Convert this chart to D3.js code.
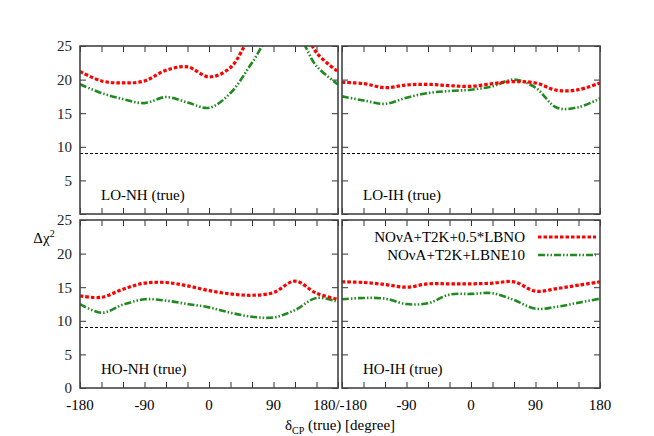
<!DOCTYPE html>
<html><head><meta charset="utf-8">
<script src="https://cdn.jsdelivr.net/npm/d3@7"></script>
<style>body{margin:0;background:#fff}text{font-family:"Liberation Serif","DejaVu Serif",serif;font-size:13px}</style>
</head><body><svg width="654" height="436"></svg>
<script>
const delta = [-180,-150,-120,-90,-60,-30,0,30,60,90,120,150,180];
// panel data (Δχ² vs δCP)
const loNhRed   = [21.2,19.8,19.5,19.8,21.4,21.9,20.4,21.8,27,31,30,24,21.2];
const loNhGreen = [19.3,18.0,17.1,16.5,17.4,16.6,15.8,18.0,22.5,27,27,22,19.3];
const loIhRed   = [19.6,19.4,18.8,19.2,19.3,19.1,19.0,19.4,19.7,19.5,18.4,18.5,19.5];
const loIhGreen = [17.5,16.9,16.4,17.3,18.0,18.3,18.5,19.0,20.0,18.8,15.8,15.9,17.2];
const hoNhRed   = [13.7,13.5,14.7,15.6,15.7,15.2,14.5,14.0,13.8,14.2,15.9,14.1,13.2];
const hoNhGreen = [12.5,11.2,12.4,13.2,13.0,12.5,12.0,11.2,10.6,10.5,11.6,13.4,12.8];
const hoIhRed   = [15.8,15.7,15.4,15.0,15.5,15.5,15.5,15.6,15.8,14.4,14.8,15.3,15.8];
const hoIhGreen = [13.2,13.4,13.3,12.5,12.6,13.9,14.0,14.1,13.1,11.8,12.1,12.7,13.3];
const yTicks = [0,5,10,15,20,25];
const threshold = 9;
const seriesNames = ["NOvA+T2K+0.5*LBNO","NOvA+T2K+LBNE10"];

const panels = [
  {name:"LO-NH (true)", red:loNhRed, green:loNhGreen, x0:80, y0:46},
  {name:"LO-IH (true)", red:loIhRed, green:loIhGreen, x0:342, y0:46},
  {name:"HO-NH (true)", red:hoNhRed, green:hoNhGreen, x0:80, y0:220},
  {name:"HO-IH (true)", red:hoIhRed, green:hoIhGreen, x0:342, y0:220}
];
const pw = 258, ph = 168;
const svg = d3.select("svg");
const styles = [
  {color:"#ff0000", dash:"3.5,2", w:3.2},
  {color:"#1f8a1f", dash:"7,2,1.5,2,1.5,2", w:2.6}
];

panels.forEach((p, i) => {
  const x = d3.scaleLinear().domain([-180,180]).range([0,pw]);
  const y = d3.scaleLinear().domain([0,25]).range([ph,0]);
  const g = svg.append("g").attr("transform", `translate(${p.x0},${p.y0})`);
  g.append("clipPath").attr("id", "c"+i).append("rect").attr("width", pw).attr("height", ph);

  const left = i % 2 === 0, bottom = i >= 2;
  const fmt = d => (!left || (!bottom && d === 0)) ? "" : d;
  const ya = g.append("g").call(d3.axisLeft(y).tickValues(yTicks).tickSize(-6).tickFormat(fmt));
  const yr = g.append("g").attr("transform", `translate(${pw},0)`).call(d3.axisRight(y).tickValues(yTicks).tickSize(-6).tickFormat(""));
  const xticks = d3.range(-180,181,30);
  const xb = g.append("g").attr("transform", `translate(0,${ph})`)
    .call(d3.axisBottom(x).tickValues(xticks).tickSize(-6).tickFormat(""));
  const xt = g.append("g").call(d3.axisTop(x).tickValues(xticks).tickSize(-6).tickFormat(""));
  [ya, yr, xb, xt].forEach(a => {
    a.select(".domain").remove();
    a.selectAll("line").attr("stroke","#333");
    a.selectAll("text").style("font-size","15px").attr("fill","#222");
  });
  ya.selectAll("text").attr("x", -8);
  if (bottom) {
    const labs = left ? [-180,-90,0,90] : [-90,0,90,180];
    g.selectAll(".xl").data(labs).enter().append("text")
      .attr("x", d => x(d)).attr("y", ph + 22).attr("text-anchor","middle")
      .style("font-size","15px").text(d => d);
    if (left) g.append("text").attr("x", pw + 2).attr("y", ph + 22).attr("text-anchor","middle")
      .style("font-size","15px").text("180/-180");
  }

  g.append("line").attr("x1",0).attr("x2",pw).attr("y1",y(threshold)).attr("y2",y(threshold))
    .attr("stroke","#000").attr("stroke-dasharray","3,2").attr("stroke-width",1.1);

  const line = d3.line().x((d,k) => x(delta[k])).y(d => y(d)).curve(d3.curveCatmullRom);
  [p.green, p.red].forEach((s, k) => {
    const st = styles[1-k];
    g.append("path").datum(s).attr("d", line).attr("fill","none")
      .attr("clip-path", `url(#c${i})`)
      .attr("stroke", st.color).attr("stroke-width", st.w).attr("stroke-dasharray", st.dash);
  });

  g.append("rect").attr("width",pw).attr("height",ph).attr("fill","none").attr("stroke","#444").attr("stroke-width",1.6);
  g.append("text").attr("x", 21).attr("y", ph - 14).style("font-size","15px").text(p.name);

  if (i === 3) {
    seriesNames.forEach((n, k) => {
      const ly = 17 + k*18;
      g.append("text").attr("x", 183).attr("y", ly + 5).attr("text-anchor","end")
        .style("font-size","15px").text(n.replace("v","\u03bd"));
      g.append("line").attr("x1",196).attr("x2",254).attr("y1",ly).attr("y2",ly)
        .attr("stroke",styles[k].color).attr("stroke-width",styles[k].w).attr("stroke-dasharray",styles[k].dash);
    });
  }
});

svg.append("text").attr("x", 44).attr("y", 243).attr("text-anchor","middle").style("font-size","15px")
  .html('Δχ<tspan dy="-6" style="font-size:10px">2</tspan>');
svg.append("text").attr("x", 340).attr("y", 430).attr("text-anchor","middle").style("font-size","15px")
  .html('δ<tspan dy="4" style="font-size:10px">CP</tspan><tspan dy="-4"> (true) [degree]</tspan>');
</script></body></html>
